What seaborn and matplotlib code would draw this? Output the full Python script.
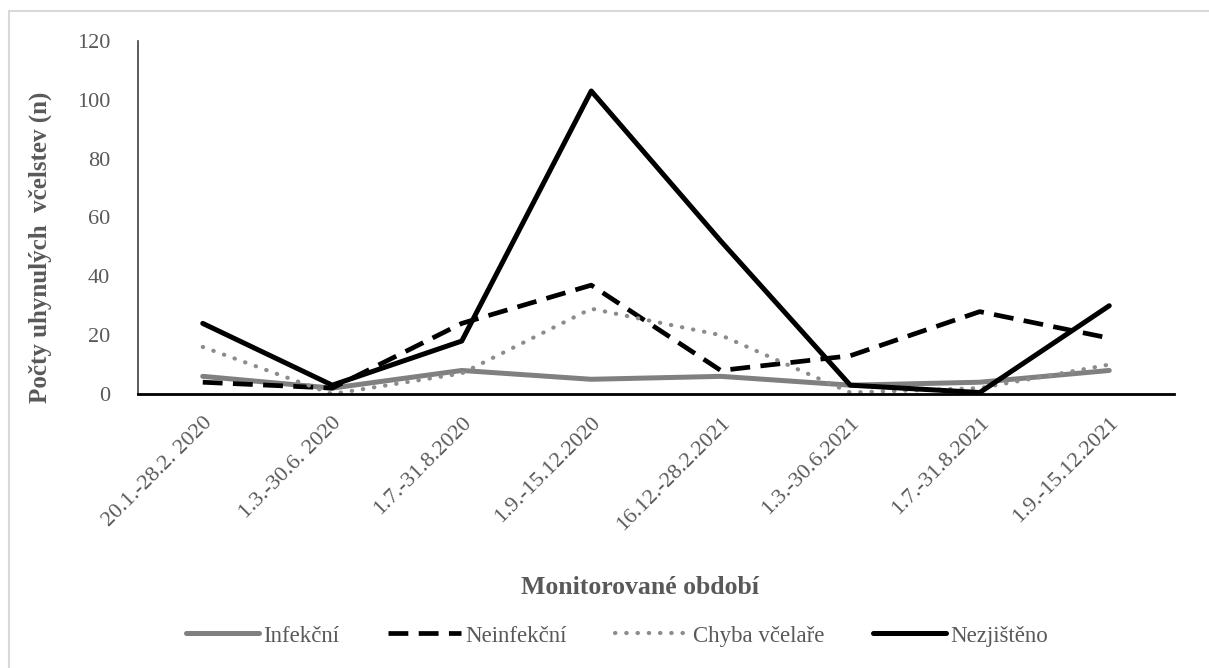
import matplotlib
matplotlib.use("Agg")
import matplotlib.pyplot as plt
import seaborn as sns
import pandas as pd
from matplotlib.patches import Rectangle

categories = ["20.1.-28.2. 2020", "1.3.-30.6. 2020", "1.7.-31.8.2020", "1.9.-15.12.2020",
              "16.12.-28.2.2021", "1.3.-30.6.2021", "1.7.-31.8.2021", "1.9.-15.12.2021"]
infekcni = [6, 2, 8, 5, 6, 3, 4, 8]
neinfekcni = [4, 2, 24, 37, 8, 13, 28, 19]
chyba = [16, 0, 7, 29, 20, 0.5, 2, 10]
nezjisteno = [24, 3, 18, 103, 52, 3, 0.5, 30]
series_names = ["Infekční", "Neinfekční", "Chyba včelaře", "Nezjištěno"]
yticks = [0, 20, 40, 60, 80, 100, 120]

sns.set_style("white")
plt.rcParams['font.family'] = ['Liberation Serif', 'DejaVu Serif']

fig = plt.figure(figsize=(12.09, 6.68), dpi=100)
W, H = 1209, 668
ax = fig.add_axes([138 / W, (H - 394) / H, (1174 - 138) / W, (394 - 41) / H])

# outer light border
fig.patches.append(Rectangle((9 / W, -0.1), 1.2, (H - 11) / H + 0.1, transform=fig.transFigure,
                             fill=False, edgecolor="#d9d9d9", linewidth=1.5))

styles = {
    "Infekční": dict(color="#808080", lw=3.6, ls="-", cap="butt"),
    "Neinfekční": dict(color="black", lw=3.4, ls=(0, (4.2, 2.2)), cap="butt"),
    "Chyba včelaře": dict(color="#8c8c8c", lw=3.0, ls=(0, (0.1, 2.6)), cap="round"),
    "Nezjištěno": dict(color="black", lw=3.6, ls="-", cap="butt"),
}
data = [infekcni, neinfekcni, chyba, nezjisteno]
for name, vals in zip(series_names, data):
    df = pd.DataFrame({"x": range(len(categories)), "y": vals})
    st = styles[name]
    sns.lineplot(data=df, x="x", y="y", ax=ax, color=st["color"], linewidth=st["lw"],
                 linestyle=st["ls"], label=name, dash_capstyle=st["cap"])

ax.set_xlim(-0.5, len(categories) - 0.5)
ax.set_ylim(0, 120)
ax.set_yticks(yticks)
ax.set_yticklabels([str(t) for t in yticks], fontsize=16, color="#595959")
ax.set_xticks(range(len(categories)))
ax.set_xticklabels(categories, rotation=45, ha="right", rotation_mode="anchor",
                   fontsize=16, color="#595959")
ax.tick_params(axis="y", length=0, pad=20)
ax.tick_params(axis="x", length=0, pad=14)
for s in ["top", "right"]:
    ax.spines[s].set_visible(False)
ax.spines["left"].set_color("#404040")
ax.spines["left"].set_linewidth(1.2)
ax.spines["bottom"].set_color("black")
ax.spines["bottom"].set_linewidth(2)

ax.set_xlabel("")
ax.set_ylabel("")
fig.text(640 / W, 1 - 587 / H, "Monitorované období", ha="center", va="center",
         fontsize=18.5, fontweight="bold", color="#595959")
fig.text(40 / W, 1 - 247 / H, "Počty uhynulých  včelstev (n)", ha="center", va="center",
         rotation=90, fontsize=18, fontweight="bold", color="#595959")

leg = ax.legend(loc="center", bbox_to_anchor=(617 / W, 1 - 636 / H), bbox_transform=fig.transFigure,
                ncol=4, frameon=False, fontsize=16.5, handlelength=3.2, handletextpad=0.2,
                columnspacing=2.1)
for t in leg.get_texts():
    t.set_color("#595959")

fig.savefig("out.png", dpi=100)
